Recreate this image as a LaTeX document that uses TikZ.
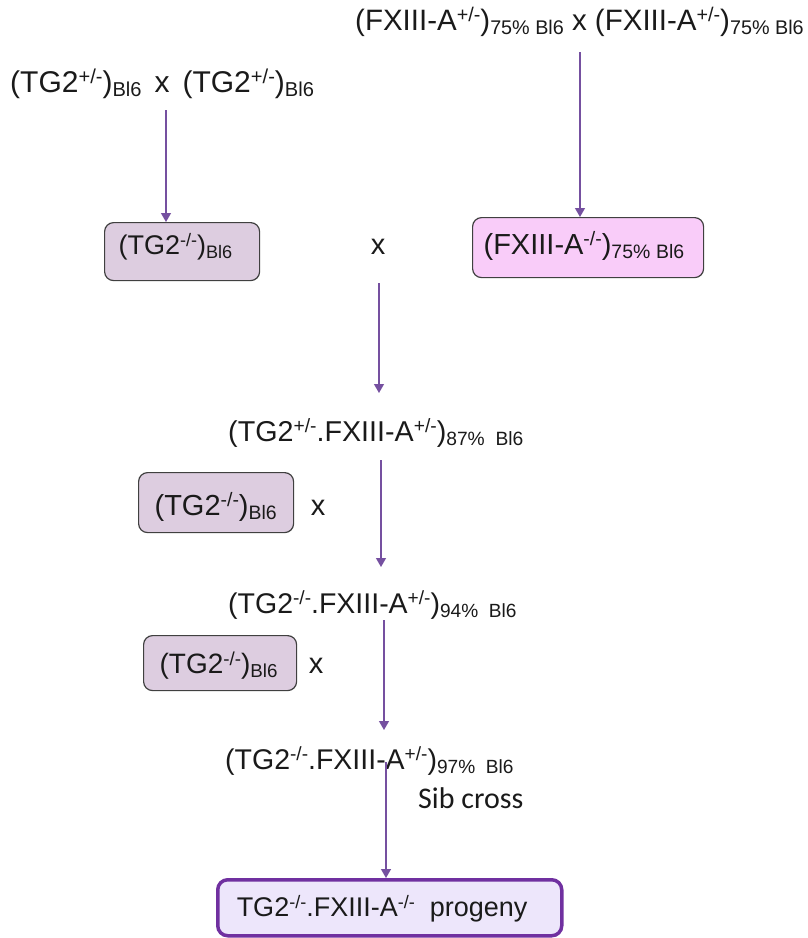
\documentclass[tikz,border=0pt]{standalone}
\usepackage{fontspec}
\usepackage{graphicx}
\setmainfont{Liberation Sans}
\newfontfamily\calib{Carlito}
\usetikzlibrary{arrows.meta}
\definecolor{arrowc}{HTML}{7550A0}
\definecolor{mauvefill}{HTML}{DDCDE0}
\definecolor{pinkfill}{HTML}{F9CCF9}
\definecolor{lavfill}{HTML}{EDE6FB}
\definecolor{finalborder}{HTML}{7030A0}
\definecolor{boxborder}{HTML}{404040}
\definecolor{txt}{HTML}{1A1A1A}
\newcommand\sps[1]{\raisebox{0.3em}{\scalebox{0.67}{#1}}}
\newcommand\sbs[1]{\raisebox{-0.15em}{\scalebox{0.67}{#1}}}
\newcommand\fs[1]{\fontsize{#1}{#1}\selectfont}
\tikzset{
  txtnode/.style={inner sep=0pt, anchor=base west, text=txt},
  crossbox/.style={draw=boxborder, line width=1.2pt, rounded corners=9pt, inner sep=0pt,
    anchor=north west, align=left, text=txt},
  finalbox/.style={draw=finalborder, line width=3.5pt, fill=lavfill, rounded corners=10pt,
    inner sep=0pt, anchor=north west, align=left, text=txt},
  arr/.style={draw=arrowc, line width=1.3pt, -{Triangle[width=10pt,length=9pt]}}
}
\begin{document}
\begin{tikzpicture}[x=1pt,y=-1pt]
\useasboundingbox (0,0) rectangle (807,938);
% top texts
\node[txtnode] (fxpar) at (355,30) {\fs{29.5}(FXIII-A\sps{+/-})\sbs{75\% Bl6} x (FXIII-A\sps{+/-})\sbs{75\% Bl6}};
\node[txtnode] (tgpar) at (10,92) {\fs{30}(TG2\sps{+/-})\sbs{Bl6}\hspace{13pt}x\hspace{13pt}(TG2\sps{+/-})\sbs{Bl6}};
% boxes row 1
\node[crossbox, fill=mauvefill, text width=155pt, text height=32pt, text depth=26pt] (tgko) at (104,222)
  {\fs{27}\hspace*{14pt}\mbox{(TG2\sps{-/-})\sbs{Bl6}}};
\node[crossbox, fill=pinkfill, text width=231pt, text height=37pt, text depth=23pt] (fxko) at (472,217)
  {\fs{29}\hspace*{11pt}\mbox{(FXIII-A\sps{-/-})\sbs{75\%\hspace{0.3em}Bl6}}};
\node[txtnode, anchor=base] (x1) at (378,254) {\fs{29}x};
% generation texts
\node[txtnode] (g87) at (228,441) {\fs{28.7}(TG2\sps{+/-}.FXIII-A\sps{+/-})\sbs{87\%\ \ Bl6}};
\node[crossbox, fill=mauvefill, text width=155pt, text height=43pt, text depth=17pt] (tgb2) at (138,472)
  {\fs{29}\hspace*{16pt}\mbox{(TG2\sps{-/-})\sbs{Bl6}}};
\node[txtnode, anchor=base] (x2) at (318,515) {\fs{29}x};
\node[txtnode] (g94) at (228,613) {\fs{28.5}(TG2\sps{-/-}.FXIII-A\sps{+/-})\sbs{94\%\ \ Bl6}};
\node[crossbox, fill=mauvefill, text width=153pt, text height=38pt, text depth=17pt] (tgb3) at (143,635)
  {\fs{28}\hspace*{16pt}\mbox{(TG2\sps{-/-})\sbs{Bl6}}};
\node[txtnode, anchor=base] (x3) at (316,673) {\fs{29}x};
\node[txtnode] (g97) at (225,769) {\fs{28.5}(TG2\sps{-/-}.FXIII-A\sps{+/-})\sbs{97\%\ \ Bl6}};
\node[txtnode] (sib) at (418,808) {\calib\fs{30}Sib cross};
\node[finalbox, text width=344pt, text height=37pt, text depth=19pt] (prog) at (216,878)
  {\fs{27}\hspace*{19pt}\mbox{TG2\sps{-/-}.FXIII-A\sps{-/-}\hspace{0.55em}progeny}};
% arrow end coordinates
\coordinate (a1s) at (166,110);
\coordinate (a2s) at (580,52);
\coordinate (a3s) at (379,283);
\coordinate (a3e) at (379,393);
\coordinate (a4s) at (381,460);
\coordinate (a4e) at (381,567);
\coordinate (a5s) at (384,620);
\coordinate (a5e) at (384,730);
\coordinate (a6s) at (386,762);
\draw[arr] (a1s) -- (a1s |- tgko.north);
\draw[arr] (a2s) -- (a2s |- fxko.north);
\draw[arr] (a3s) -- (a3e);
\draw[arr] (a4s) -- (a4e);
\draw[arr] (a5s) -- (a5e);
\draw[arr] (a6s) -- (a6s |- prog.north);
\end{tikzpicture}
\end{document}
